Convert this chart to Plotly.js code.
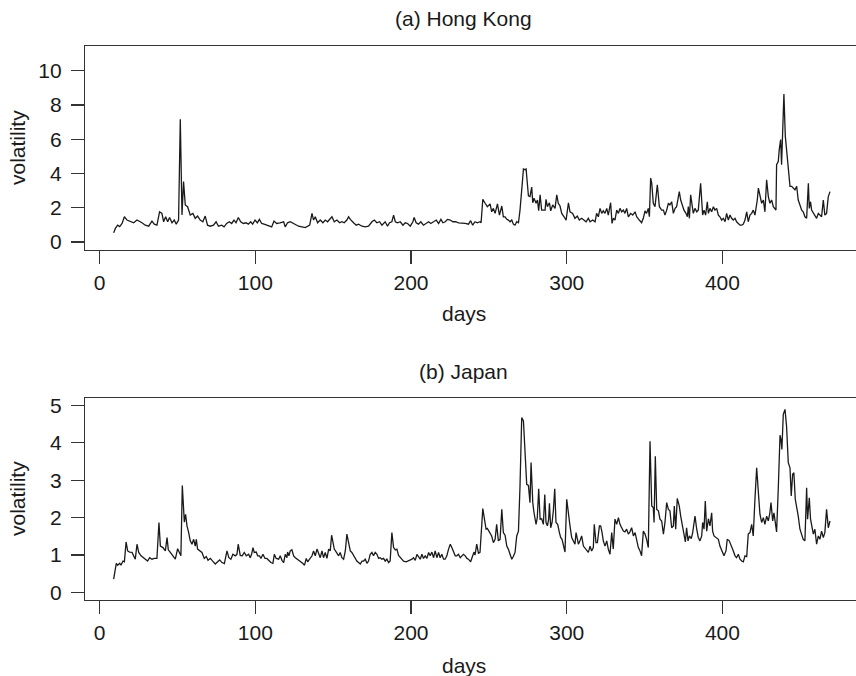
<!DOCTYPE html>
<html>
<head>
<meta charset="utf-8">
<script src="https://cdn.plot.ly/plotly-3.0.1.min.js"></script>
<style>html,body{margin:0;padding:0;background:#fff;}#chart{width:856px;height:676px;}</style>
</head>
<body>
<div id="chart"></div>
<script>
// (a) Hong Kong
const hkDays = [9,10.1,11.6,12.9,14.4,15.9,17.6,19.7,21.8,24,25.5,27.2,29.3,31.5,33.6,35.1,36.8,38.5,40,41.1,42.4,43.7,44.9,46.5,47.9,49.2,50.7,51.8,52.9,53.9,55,56.5,58.2,59.9,61.4,62.9,64.6,66.3,67.8,69.3,71,73.1,74.8,76.3,78.4,79.9,81.6,83.3,84.8,86.3,87.6,89.1,90.6,92.3,94,95.5,97,98.3,99.8,101.3,102.6,104.1,105.6,107.3,109,110.5,112,113.7,115.8,
118.2,119.2,120.7,122.4,124.2,125.7,127.8,129.9,132.1,134.9,136.4,137.4,138.5,140,141.7,143.4,144.9,146.4,148.1,149.2,150.7,152.4,154.1,155.6,157.1,158.8,159.9,161,163.1,164.8,166.3,168.5,170.6,172.7,174.9,176.4,178.1,179.8,181.3,183.4,184.9,186.2,187.7,188.8,189.9,191.3,193.1,194.8,196.3,197.8,199.5,201.2,202,203.3,204.8,206.3,208,209.8,211.3,212.7,214.5,216.2,217.7,219.2,220.5,222,223.4,225.2,226.9,228.6,230.5,232.7,234.8,236.9,238.3,239.6,241.1,242.6,244.3,245,
246.1,247.6,249,250.8,251.8,252.9,254,255.5,256.8,258.3,259.3,260.4,261.5,262.5,263.6,264.7,265.7,266.8,267.9,269,270,271.1,272.2,273.2,273.9,274.7,275.4,276.4,277.5,278.2,279,280.3,281.2,282,282.9,283.9,285,286.1,286.7,287.6,288.9,289.7,291,292.5,293.6,294.6,295.7,296.8,298.3,299.6,301.1,302.1,303.8,305.3,306.8,308.1,309.6,311.1,312.4,313.9,315,316.7,318.2,319.2,320.3,321.4,322.5,323.5,324.6,325.7,326.7,328.2,329.1,329.9,331,332.1,333.2,334.2,335.3,336.4,337.4,338.5,339.6,341.1,342.4,343.9,344.9,346.6,348.1,349.2,350.3,351.3,352.4,353.1,353.9,354.6,355.6,356.7,357.3,358.2,359.5,
361,362.1,363.1,364.2,365.3,366.3,367.4,368.5,369.6,370.6,372.3,373.2,374.3,375.3,376.6,377.5,378.1,378.8,379.6,380.5,381.3,382.4,383.5,384.5,386,387.3,388.2,389.2,390.3,391,392,393.1,394.2,395.2,396.3,397.4,398.4,399.5,400.6,401.7,402.7,403.8,404.9,405.9,407,408.1,409.1,410.2,411.3,412.4,413.4,414.5,415.6,416.6,417.7,418.8,419.8,420.9,421.5,422.4,423.1,424.1,425.2,426.3,427.3,428.4,429.5,430.5,431.6,432.7,433.8,434.4,434.8,435.9,436.5,437.4,438,438.7,439.5,440.4,441.2,442.3,443.4,444.5,445.5,446.6,447.7,448.7,449.8,450.9,451.9,453,454.1,455.2,455.8,456.6,457.3,458.4,459.4,460.5,461.6,462.6,463.7,464.8,465.8,466.9,468,469.1];
const hkVol = [0.53,0.79,0.98,0.9,1.08,1.47,1.28,1.18,1.12,1.28,1.22,1.12,0.98,0.92,1.22,1.04,0.98,1.76,1.67,1.18,1.47,1.18,1.43,1.12,1.28,1.04,1.28,7.16,1.57,3.53,2.16,2.06,1.57,1.67,1.38,1.51,1.28,1.18,1.51,0.98,0.92,0.98,1.18,0.92,0.98,0.88,1.08,1.18,1.08,1.28,1.12,1.43,1.18,1.08,1.12,1.04,1.18,1.04,1.28,1.12,1.32,1.08,1.04,0.98,0.92,0.88,1.22,1.08,1.12,
1.18,0.88,1.12,1.18,1.08,1.04,0.92,0.88,0.84,0.98,1.67,1.28,1.47,1.12,1.28,1.12,1.28,1.18,1.38,1.47,1.18,1.28,1.12,1.18,1.12,1.28,1.47,1.32,1.12,0.98,1.04,0.92,0.88,0.92,1.18,1.28,1.12,1.18,0.98,1.18,0.92,1.12,1.18,1.57,1.18,1.12,1.18,0.98,1.12,1.08,0.92,1.18,1.43,1.12,1.04,1.18,0.98,1.12,1.18,1.08,1.18,1.28,1.08,1.32,1.12,1.18,1.32,1.28,1.18,1.18,1.12,1.12,1.08,1.04,1.24,0.98,1.18,1.12,1.18,1.12,
2.49,2.26,2.06,2.22,1.76,1.96,1.67,2.22,1.57,2.10,1.47,1.47,1.32,1.28,1.18,1.28,1.04,0.98,1.18,1.12,1.86,3.04,4.26,4.22,4.26,3.43,2.69,2.65,3.20,2.29,2.55,2.26,2.45,1.82,2.75,1.86,1.86,1.86,2.49,2.06,2.29,1.82,2.16,1.96,2.75,2.26,2.10,1.67,1.47,1.28,2.29,1.76,1.67,1.38,1.51,1.28,1.38,1.28,1.18,1.38,1.18,1.28,1.18,1.67,1.47,1.96,1.67,1.82,1.67,1.96,1.57,2.29,1.08,1.38,1.28,1.86,1.67,1.96,1.76,1.86,1.67,1.96,1.47,1.67,1.57,1.76,1.47,1.28,1.12,1.38,1.82,1.67,1.96,1.47,3.73,3.43,2.26,2.06,2.45,3.34,2.06,
1.86,1.86,1.57,1.86,2.26,2.16,2.35,1.67,1.96,2.06,2.94,2.45,2.06,1.86,1.67,1.47,2.06,1.38,2.75,2.16,1.67,1.96,1.76,1.86,3.43,1.57,1.86,1.57,2.35,1.67,1.96,1.76,2.06,1.86,1.96,1.57,1.47,1.28,1.38,1.18,1.67,1.28,1.57,1.38,1.28,1.38,1.18,1.08,0.98,0.98,1.04,1.28,1.76,1.18,1.57,1.67,1.86,1.57,1.86,2.45,3.14,2.65,2.26,2.45,1.76,3.63,2.65,2.26,2.45,2.06,1.96,1.86,4.51,4.71,5.39,5.98,4.51,5.98,8.63,6.18,5.49,4.22,3.25,3.25,3.14,3.04,3.25,2.45,2.16,1.86,1.76,1.47,1.38,3.43,1.96,2.35,1.86,1.67,1.57,1.38,1.67,1.57,1.47,2.45,1.57,1.67,2.65,2.94];

// (b) Japan
const jpDays = [9,10.7,11.6,12.9,13.7,15,15.9,17,18,19.3,20.8,21.8,22.9,24,25.1,26.6,28.3,29.8,30.8,32.1,33.6,35.1,36.8,38.1,39,40.7,42.2,43.3,44.1,45.4,47.1,48.6,50.1,51.4,52.2,53.1,54.4,55.2,56.1,57.2,58.2,59.3,60.4,61.4,62.1,62.9,64.2,65.7,67.2,68.5,69.6,71.1,72.6,74.3,75.8,77.1,78.6,80.1,81.8,83,84.3,85.6,87.1,88.2,89,90.3,91.6,92.9,94.2,95.7,96.7,97.6,98.5,99.3,100.6,101.5,102.7,103.6,104.9,106.2,107.4,108.7,110,111.3,112.2,113.4,115,
116,117.1,118.2,119.2,120.3,120.7,121.6,122.4,123.5,124.6,125.7,127.1,128.9,130.4,131.6,132.7,133.6,134.9,136.4,137.4,138.5,139.6,140.6,141.7,142.8,143.8,144.9,146,147.1,148.1,149,149.8,150.7,152,153.5,154.5,155.6,156.7,157.8,158.8,159.9,161,162,163.1,164.2,165.2,166.3,167.4,168.5,169.5,170.6,171.7,172.7,173.8,174.9,175.9,177,178.1,179.2,180.2,181.3,182.4,183.4,184.5,185.6,186.6,187.7,188.8,189.9,190.9,192,193.1,194.1,195.2,196.9,198.4,199.5,200.6,201.6,202.7,203.8,204.8,205.9,207,208,209.1,210.2,211.3,212.3,213.4,214.5,215.5,216.6,217.7,218.7,219.8,220.9,221.9,223,224.1,225.2,226.2,227.3,228.4,229.4,230.5,231.6,232.6,233.7,234.8,235.9,236.9,
238.3,239.6,240.5,241.1,242.2,243.3,244.3,246.1,246.9,248.2,249,249.9,250.8,251.8,252.9,254,255,256.1,257.2,258.3,259.3,260.4,261.5,262.5,263.6,264.7,265.7,266.8,267.9,269,270,271.1,272.2,273.2,274.3,275.4,276.4,277.1,278.2,279,280.3,281.1,282,282.9,283.9,285,285.9,286.7,287.6,288.4,288.9,289.7,290.6,291.4,292.3,293.1,294.2,295.3,296.1,297,297.8,298.9,300,301.1,302.1,303.2,304.3,305.3,306,306.8,307.5,308.5,309.6,310.7,311.8,312.8,313.9,315,316,317.1,317.7,318.8,319.7,321,321.8,322.7,323.5,324.6,325.7,326.7,327.8,328.9,329.9,331,332.1,333.2,334.2,335.3,336.4,337.4,338.5,339.6,340.6,341.7,342.8,343.9,344.9,346,347.1,348.1,349.2,350.3,351.3,352.4,
353.5,354.6,355.6,356.1,356.9,357.8,358.9,359.9,361,362.1,363.1,364.2,365.3,366.3,367.4,368.5,369.1,370,371,372.3,373.2,374.3,375.3,376.2,377,377.9,378.8,380,380.9,382.4,383.5,384.5,385.6,386.7,387.3,388.2,389,389.9,391,392,393.1,393.7,394.6,395.9,397.4,398.4,399.5,401,402.3,403.1,404.4,405.9,407,408.1,409.1,410.2,411.3,412.4,413.4,414.5,415.6,416.6,417.7,418.8,419.8,420.9,422,423.1,424.1,425.2,426.3,427.3,428.4,429.5,430.5,431.2,432.3,433.1,433.8,434.8,435.9,437,437.6,438.2,439.1,440.2,441.2,442.3,443.4,444.2,445.1,445.9,446.8,447.7,448.7,449.8,450.9,451.9,453,454.1,454.7,455.8,456.6,457.5,458.4,459.4,460.5,461.6,462.6,463.7,464.8,465.8,466.9,468,469.1];
const jpVol = [0.355,0.78,0.73,0.78,0.73,0.84,0.82,1.35,1.11,1.08,1.07,0.98,0.89,1.29,1.07,0.98,0.93,0.89,0.84,0.93,0.89,0.91,0.91,1.87,1.24,1.2,1.11,1.47,1.14,1.07,0.96,0.89,1.17,1.02,0.98,2.86,1.88,2.09,1.78,1.6,1.38,1.29,1.42,1.24,1.42,1.16,1.11,1.07,0.91,0.96,0.86,0.91,0.84,0.76,0.82,0.87,0.8,0.77,1.11,0.93,0.89,1.02,0.98,1.02,1.29,0.99,0.98,1.07,0.98,1.02,0.93,1.02,1.2,1.07,1.08,0.98,0.98,0.91,1.02,0.91,0.91,0.84,0.8,0.78,1.02,0.91,0.89,
0.98,0.86,0.8,1.02,0.93,1.08,0.98,1.11,1.14,0.98,0.93,0.89,0.84,0.78,0.73,0.91,0.82,0.89,0.98,1.11,0.98,1.16,1.07,0.93,1.11,0.93,1.07,0.91,1.16,1.11,1.53,1.38,1.16,1.08,0.98,1.07,0.93,0.89,1.11,1.56,1.29,1.11,1.07,0.99,0.91,0.84,0.8,0.76,0.84,0.84,0.89,0.78,0.84,1.02,1.07,0.98,1.07,1.02,0.91,0.93,0.89,0.91,0.84,0.89,0.8,0.84,1.6,1.2,1.14,1.16,0.99,0.93,0.89,0.84,0.82,0.84,0.87,0.89,0.93,0.86,1.02,0.96,0.89,1.02,0.91,0.98,0.91,1.07,0.98,1.08,0.93,1.11,0.93,1.07,0.93,1.02,0.89,0.89,0.98,1.16,1.29,1.2,1.07,0.98,0.98,1.02,0.93,0.98,1.02,0.98,0.91,0.89,
0.82,0.98,1.08,1.0,1.29,1.05,1.07,2.24,2.04,1.69,1.71,1.64,1.56,1.51,1.33,1.42,1.82,1.38,1.42,2.22,1.6,1.53,1.24,1.16,1.02,0.89,0.96,1.07,1.51,1.64,2.84,4.67,4.58,3.69,2.89,2.86,2.4,3.47,2.4,2.13,1.82,2.0,2.77,1.96,1.97,1.82,2.62,1.87,1.78,1.96,2.38,1.73,1.87,2.18,2.77,1.87,1.82,1.6,1.47,1.42,1.24,1.08,2.49,2.04,1.78,1.47,1.38,1.29,1.6,1.47,1.29,1.38,1.51,1.24,1.17,1.11,1.07,1.24,1.11,1.2,1.82,1.33,1.33,1.78,1.78,1.6,1.38,1.24,1.38,1.16,1.02,1.6,1.16,1.96,1.82,2.0,1.82,1.73,1.64,1.62,1.69,1.56,1.62,1.73,1.51,1.6,1.38,1.2,1.11,0.98,1.64,1.56,1.42,1.2,
4.04,2.31,2.27,1.87,3.64,2.22,2.18,1.96,1.91,1.56,1.87,2.4,2.22,2.18,1.73,1.78,2.31,1.69,2.51,2.31,2.04,1.78,1.51,1.35,1.73,1.38,1.51,1.44,1.6,2.04,1.69,1.47,1.38,1.51,1.87,1.69,2.44,1.64,1.97,1.78,2.13,1.64,1.51,1.47,1.42,1.24,1.11,0.98,1.11,1.42,1.38,1.24,1.11,0.98,0.93,1.02,0.89,0.84,0.82,0.98,0.96,1.56,1.6,1.82,1.51,2.49,3.33,2.67,2.09,1.87,2.0,1.82,2.04,1.91,2.13,2.4,1.91,2.13,1.96,1.62,2.8,4.2,4.09,3.82,4.76,4.89,4.44,3.47,3.33,2.58,3.16,3.2,2.49,2.31,2.04,1.69,1.51,1.42,1.38,2.8,1.96,2.53,1.96,1.78,1.56,1.69,1.29,1.51,1.42,1.64,1.47,1.6,2.22,1.73,1.91];

const xTicks = [0, 100, 200, 300, 400];
const hkTicks = [0, 2, 4, 6, 8, 10];
const jpTicks = [0, 1, 2, 3, 4, 5];
const titles = ['(a) Hong Kong', '(b) Japan'];
const xLabel = 'days';
const yLabel = 'volatility';

const W = 856, H = 676;
const ink = '#1a1a1a', axisInk = '#333';
const fontFam = 'Liberation Sans, Arial, Helvetica, sans-serif';

const lineStyle = {color: ink, width: 1.3};
const traces = [
  {x: hkDays, y: hkVol, type: 'scatter', mode: 'lines', line: lineStyle, xaxis: 'x', yaxis: 'y', hoverinfo: 'skip'},
  {x: jpDays, y: jpVol, type: 'scatter', mode: 'lines', line: lineStyle, xaxis: 'x2', yaxis: 'y2', hoverinfo: 'skip'}
];

const xDom = [85 / W, 1];
function px2y(py) { return 1 - py / H; }
const xBase = {
  domain: xDom, range: [-9.4, 485.8], tickvals: xTicks, ticktext: xTicks.map(String),
  ticks: 'outside', ticklen: 13, tickwidth: 1.2, tickcolor: axisInk,
  showline: true, linecolor: axisInk, linewidth: 1.2, mirror: true,
  showgrid: false, zeroline: false, ticklabelstandoff: 1,
  tickfont: {family: fontFam, size: 21, color: ink}, fixedrange: true
};
const yBase = {
  ticks: 'outside', ticklen: 13, tickwidth: 1.2, tickcolor: axisInk,
  showline: true, linecolor: axisInk, linewidth: 1.2, mirror: false,
  showgrid: false, zeroline: false, ticklabelstandoff: 5,
  tickfont: {family: fontFam, size: 21, color: ink}, fixedrange: true
};

const layout = {
  width: W, height: H,
  margin: {l: 0, r: 0, t: 0, b: 0, pad: 0},
  paper_bgcolor: '#fff', plot_bgcolor: '#fff',
  showlegend: false,
  font: {family: fontFam, size: 21, color: ink},
  xaxis: Object.assign({}, xBase, {anchor: 'y'}),
  yaxis: Object.assign({}, yBase, {anchor: 'x', domain: [px2y(249.5), px2y(46)], range: [-0.44, 11.44], tickvals: hkTicks, ticktext: hkTicks.map(String)}),
  xaxis2: Object.assign({}, xBase, {anchor: 'y2'}),
  yaxis2: Object.assign({}, yBase, {anchor: 'x2', domain: [px2y(600), px2y(397.8)], range: [-0.2, 5.2], tickvals: jpTicks, ticktext: jpTicks.map(String)}),
  annotations: [
    {text: titles[0], x: 464 / W, y: px2y(18), xref: 'paper', yref: 'paper', xanchor: 'center', yanchor: 'middle', showarrow: false, font: {family: fontFam, size: 21, color: ink}},
    {text: titles[1], x: 464 / W, y: px2y(371), xref: 'paper', yref: 'paper', xanchor: 'center', yanchor: 'middle', showarrow: false, font: {family: fontFam, size: 21, color: ink}},
    {text: xLabel, x: 464 / W, y: px2y(313), xref: 'paper', yref: 'paper', xanchor: 'center', yanchor: 'middle', showarrow: false, font: {family: fontFam, size: 21, color: ink}},
    {text: xLabel, x: 464 / W, y: px2y(665), xref: 'paper', yref: 'paper', xanchor: 'center', yanchor: 'middle', showarrow: false, font: {family: fontFam, size: 21, color: ink}},
    {text: yLabel, x: 17 / W, y: px2y(148), xref: 'paper', yref: 'paper', xanchor: 'center', yanchor: 'middle', textangle: -90, showarrow: false, font: {family: fontFam, size: 21, color: ink}},
    {text: yLabel, x: 17 / W, y: px2y(499), xref: 'paper', yref: 'paper', xanchor: 'center', yanchor: 'middle', textangle: -90, showarrow: false, font: {family: fontFam, size: 21, color: ink}}
  ]
};

Plotly.newPlot('chart', traces, layout, {displayModeBar: false, staticPlot: true});
</script>
</body>
</html>
